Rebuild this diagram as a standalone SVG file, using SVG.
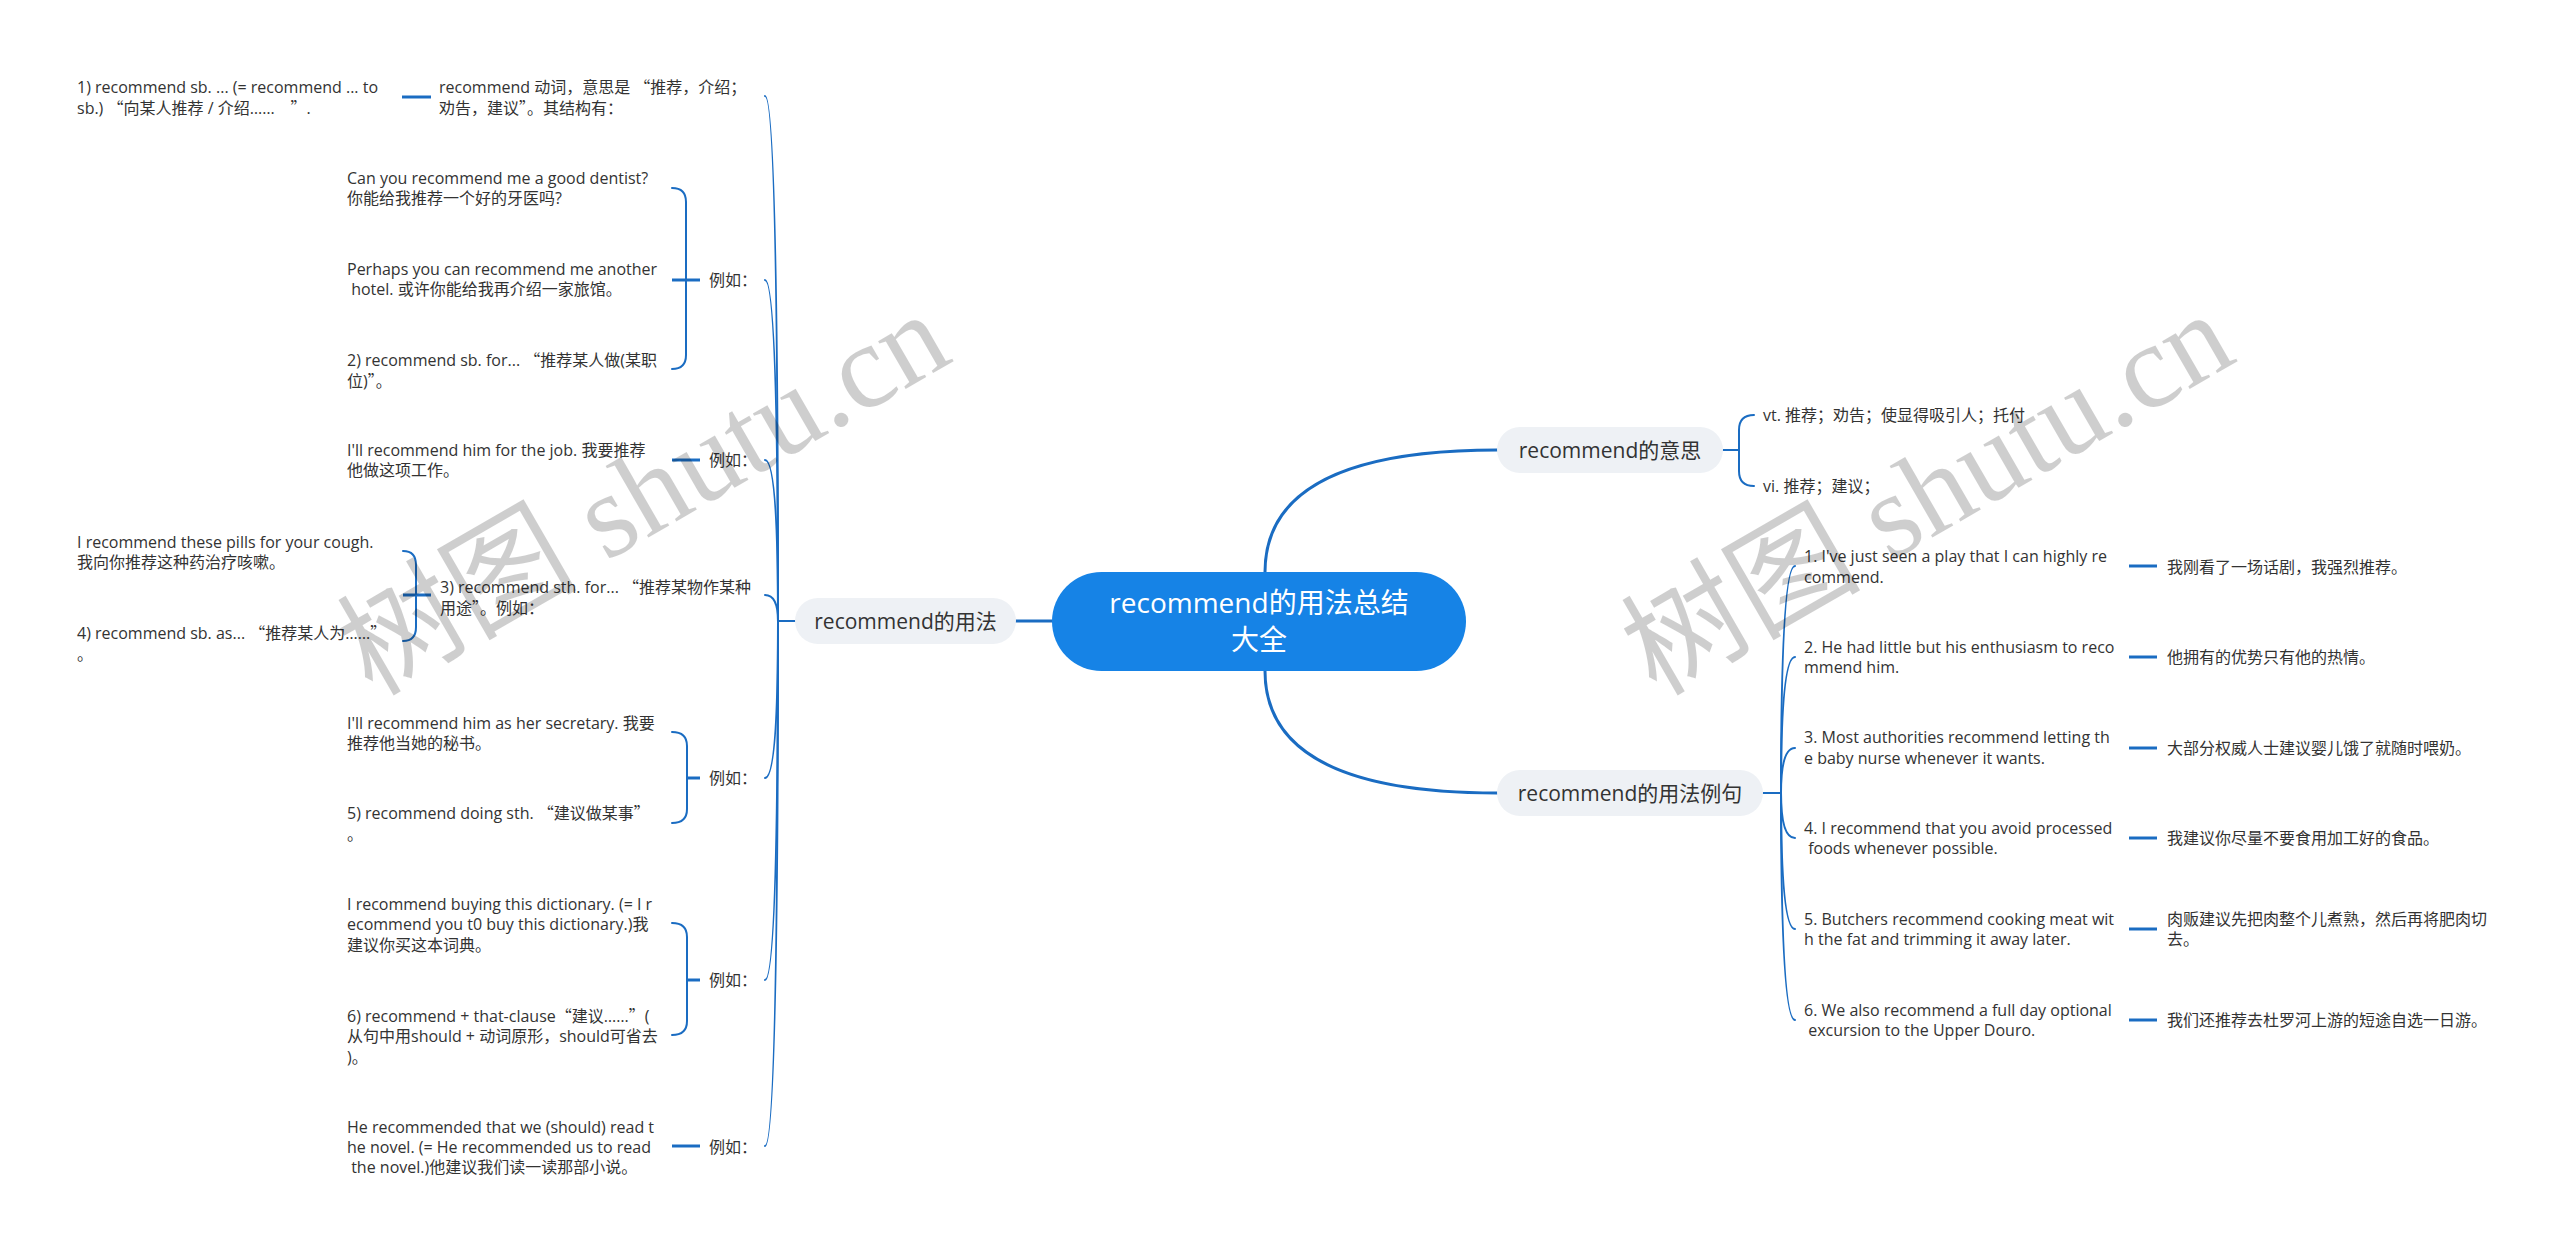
<svg xmlns="http://www.w3.org/2000/svg" width="2560" height="1253" viewBox="0 0 2560 1253">
<style>
.t{font-family:"Open Sans","Noto Sans CJK SC",sans-serif;font-size:16px;fill:#333}
.q{font-family:"Noto Sans CJK SC",sans-serif}
.l1{font-size:21px;text-anchor:middle}
.root{font-size:28px;fill:#fff;text-anchor:middle}
.ln{fill:none;stroke:#1a6cc2;stroke-width:2;stroke-linecap:round}
.main{stroke-width:3}
.dash{stroke-width:3;stroke-linecap:butt}
.wm{font-family:"Liberation Serif","Noto Sans CJK SC",serif;font-size:120px;fill:#000;opacity:0.19}
.box{fill:#eef1f5}
</style>
<rect width="2560" height="1253" fill="#fff"/>
<g id="connectors">
<path class="ln main" d="M1052,621 H1016"/>
<path class="ln main" d="M1265,572 Q1265,450 1497,450"/>
<path class="ln main" d="M1265,671 Q1265,793 1497,793"/>
<path class="ln" d="M1723,450 H1739"/>
<path class="ln" d="M1754,415 Q1739,415 1739,430 V471 Q1739,486 1754,486"/>
<path class="ln" d="M1763,793 H1781"/>
<path class="ln" d="M1781,793 Q1781,566 1795,566"/>
<path class="ln" d="M1781,793 Q1781,657 1795,657"/>
<path class="ln" d="M1781,793 Q1781,748 1795,748"/>
<path class="ln" d="M1781,793 Q1781,838 1795,838"/>
<path class="ln" d="M1781,793 Q1781,929 1795,929"/>
<path class="ln" d="M1781,793 Q1781,1020 1795,1020"/>
<path class="ln dash" d="M2129,566 H2157"/>
<path class="ln dash" d="M2129,657 H2157"/>
<path class="ln dash" d="M2129,748 H2157"/>
<path class="ln dash" d="M2129,838 H2157"/>
<path class="ln dash" d="M2129,929 H2157"/>
<path class="ln dash" d="M2129,1020 H2157"/>
<path class="ln" d="M795,621 H778"/>
<path class="ln" d="M778,621 Q778,96 765,96"/>
<path class="ln" d="M778,621 Q778,280 765,280"/>
<path class="ln" d="M778,621 Q778,460 765,460"/>
<path class="ln" d="M778,621 Q778,595 765,595"/>
<path class="ln" d="M778,621 Q778,778 765,778"/>
<path class="ln" d="M778,621 Q778,980 765,980"/>
<path class="ln" d="M778,621 Q778,1146 765,1146"/>
<path class="ln dash" d="M402,97 H431"/>
<path class="ln dash" d="M672,280 H700"/>
<path class="ln" d="M672,188 Q686,188 686,202 V355 Q686,369 672,369"/>
<path class="ln dash" d="M672,460 H700"/>
<path class="ln dash" d="M403,595 H431"/>
<path class="ln" d="M403,551 Q416,551 416,565 V627 Q416,641 403,641"/>
<path class="ln dash" d="M687,778 H700"/>
<path class="ln" d="M672,732 Q687,732 687,746 V809 Q687,823 672,823"/>
<path class="ln dash" d="M687,980 H700"/>
<path class="ln" d="M672,923 Q687,923 687,937 V1021 Q687,1035 672,1035"/>
<path class="ln dash" d="M672,1146 H700"/>
</g>
<g id="root">
<rect x="1052" y="572" width="414" height="99" rx="49.5" fill="#1683e6"/>
<text class="t root" x="1259" y="613">recommend的用法总结</text>
<text class="t root" x="1259" y="650">大全</text>
</g>
<g id="n-usage">
<rect class="box" x="795" y="598" width="221" height="46" rx="23"/>
<text class="t l1" x="905.5" y="629">recommend的用法</text>
</g>
<g id="n-meaning">
<rect class="box" x="1497" y="427" width="226" height="46" rx="23"/>
<text class="t l1" x="1610" y="458">recommend的意思</text>
</g>
<g id="n-examples">
<rect class="box" x="1497" y="770" width="266" height="46" rx="23"/>
<text class="t l1" x="1630" y="801">recommend的用法例句</text>
</g>
<g id="m-vt"><text class="t" x="1763" y="421">vt. 推荐；劝告；使显得吸引人；托付</text></g>
<g id="m-vi"><text class="t" x="1763" y="492">vi. 推荐；建议；</text></g>
<g id="e1"><text class="t" x="1804" y="562">1. I've just seen a play that I can highly re</text><text class="t" x="1804" y="583">commend.</text></g>
<g id="e1t"><text class="t" x="2167" y="573">我刚看了一场话剧，我强烈推荐。</text></g>
<g id="e2"><text class="t" x="1804" y="653">2. He had little but his enthusiasm to reco</text><text class="t" x="1804" y="673">mmend him.</text></g>
<g id="e2t"><text class="t" x="2167" y="663">他拥有的优势只有他的热情。</text></g>
<g id="e3"><text class="t" x="1804" y="743">3. Most authorities recommend letting th</text><text class="t" x="1804" y="764">e baby nurse whenever it wants.</text></g>
<g id="e3t"><text class="t" x="2167" y="754">大部分权威人士建议婴儿饿了就随时喂奶。</text></g>
<g id="e4"><text class="t" x="1804" y="834">4. I recommend that you avoid processed</text><text class="t" x="1804" y="854" xml:space="preserve"> foods whenever possible.</text></g>
<g id="e4t"><text class="t" x="2167" y="844">我建议你尽量不要食用加工好的食品。</text></g>
<g id="e5"><text class="t" x="1804" y="925">5. Butchers recommend cooking meat wit</text><text class="t" x="1804" y="945">h the fat and trimming it away later.</text></g>
<g id="e5t"><text class="t" x="2167" y="925">肉贩建议先把肉整个儿煮熟，然后再将肥肉切</text><text class="t" x="2167" y="945">去。</text></g>
<g id="e6"><text class="t" x="1804" y="1016">6. We also recommend a full day optional</text><text class="t" x="1804" y="1036" xml:space="preserve"> excursion to the Upper Douro.</text></g>
<g id="e6t"><text class="t" x="2167" y="1026">我们还推荐去杜罗河上游的短途自选一日游。</text></g>
<g id="u-verb"><text class="t" x="439" y="93">recommend 动词，意思是 <tspan class="q">“</tspan>推荐，介绍；</text><text class="t" x="439" y="114">劝告，建议<tspan class="q">”</tspan>。其结构有：</text></g>
<g id="u-1"><text class="t" x="77" y="93">1) recommend sb. ... (= recommend ... to</text><text class="t" x="77" y="114" xml:space="preserve">sb.) <tspan class="q">“</tspan>向某人推荐 / 介绍……　<tspan class="q">”</tspan>.</text></g>
<g id="ex-a"><text class="t" x="709" y="286">例如：</text></g>
<g id="ex-a1"><text class="t" x="347" y="184">Can you recommend me a good dentist?</text><text class="t" x="347" y="204">你能给我推荐一个好的牙医吗?</text></g>
<g id="ex-a2"><text class="t" x="347" y="275">Perhaps you can recommend me another</text><text class="t" x="347" y="295" xml:space="preserve"> hotel. 或许你能给我再介绍一家旅馆。</text></g>
<g id="ex-a3"><text class="t" x="347" y="366">2) recommend sb. for... <tspan class="q">“</tspan>推荐某人做(某职</text><text class="t" x="347" y="387">位)<tspan class="q">”</tspan>。</text></g>
<g id="ex-b"><text class="t" x="709" y="466">例如：</text></g>
<g id="ex-b1"><text class="t" x="347" y="456">I'll recommend him for the job. 我要推荐</text><text class="t" x="347" y="476">他做这项工作。</text></g>
<g id="u-3"><text class="t" x="440" y="593">3) recommend sth. for... <tspan class="q">“</tspan>推荐某物作某种</text><text class="t" x="440" y="614">用途<tspan class="q">”</tspan>。例如：</text></g>
<g id="u-3a"><text class="t" x="77" y="548">I recommend these pills for your cough.</text><text class="t" x="77" y="568">我向你推荐这种药治疗咳嗽。</text></g>
<g id="u-4"><text class="t" x="77" y="639">4) recommend sb. as... <tspan class="q">“</tspan>推荐某人为……<tspan class="q">”</tspan></text><text class="t" x="77" y="660">。</text></g>
<g id="ex-c"><text class="t" x="709" y="784">例如：</text></g>
<g id="ex-c1"><text class="t" x="347" y="729">I'll recommend him as her secretary. 我要</text><text class="t" x="347" y="749">推荐他当她的秘书。</text></g>
<g id="ex-c2"><text class="t" x="347" y="819">5) recommend doing sth. <tspan class="q">“</tspan>建议做某事<tspan class="q">”</tspan></text><text class="t" x="347" y="840">。</text></g>
<g id="ex-d"><text class="t" x="709" y="986">例如：</text></g>
<g id="ex-d1"><text class="t" x="347" y="910">I recommend buying this dictionary. (= I r</text><text class="t" x="347" y="930">ecommend you t0 buy this dictionary.)我</text><text class="t" x="347" y="951">建议你买这本词典。</text></g>
<g id="ex-d2"><text class="t" x="347" y="1022">6) recommend + that-clause<tspan class="q">“</tspan>建议……<tspan class="q">”</tspan>(</text><text class="t" x="347" y="1042">从句中用should + 动词原形，should可省去</text><text class="t" x="347" y="1063">)。</text></g>
<g id="ex-e"><text class="t" x="709" y="1153">例如：</text></g>
<g id="ex-e1"><text class="t" x="347" y="1133">He recommended that we (should) read t</text><text class="t" x="347" y="1153">he novel. (= He recommended us to read</text><text class="t" x="347" y="1173" xml:space="preserve"> the novel.)他建议我们读一读那部小说。</text></g>
<g id="watermark">
<text class="wm" transform="translate(372,697) rotate(-30)">树图 shutu.cn</text>
<text class="wm" transform="translate(1656,697) rotate(-30)">树图 shutu.cn</text>
</g>
</svg>
